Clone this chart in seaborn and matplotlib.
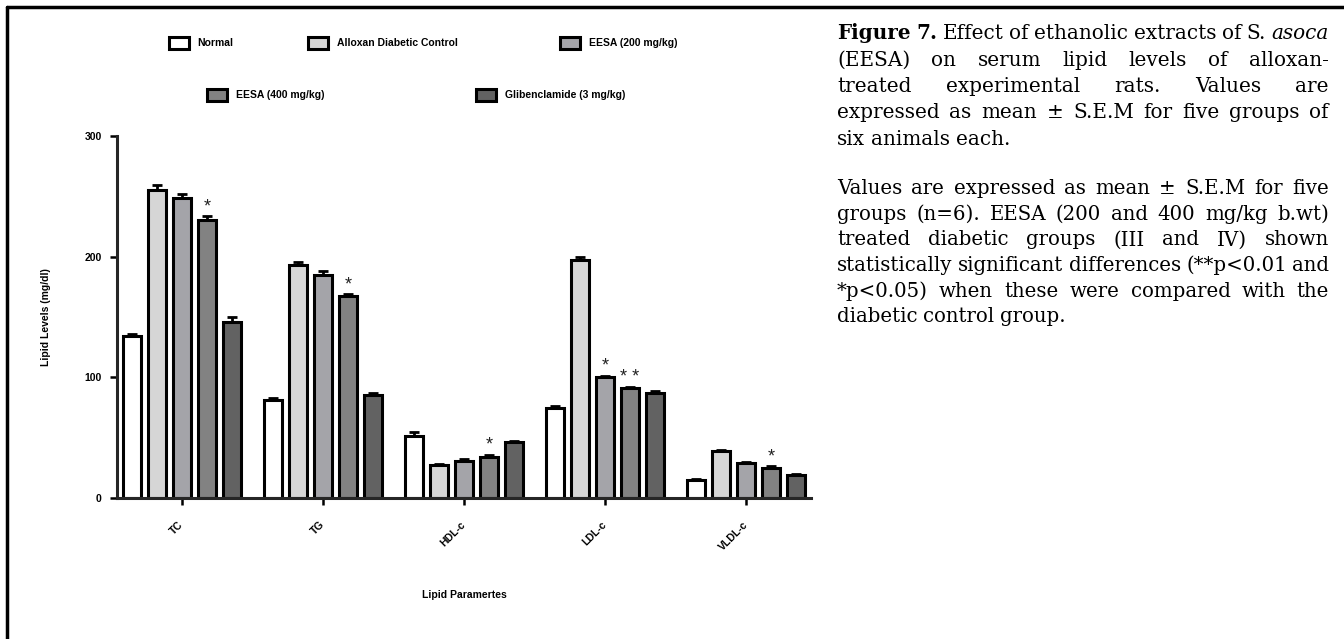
import pandas as pd
import seaborn as sns
import matplotlib.pyplot as plt
from matplotlib.lines import Line2D

# lipid parameters and treatment groups
params = ["TC", "TG", "HDL-c", "LDL-c", "VLDL-c"]
groups = ["Normal", "Alloxan Diabetic Control", "EESA (200 mg/kg)",
          "EESA (400 mg/kg)", "Glibenclamide (3 mg/kg)"]
colors = ["#FFFFFF", "#D6D6D6", "#A4A4A9", "#828282", "#626262"]

normal = [134, 81, 51, 75, 15]
alloxan = [255, 193, 27, 197, 39]
eesa200 = [249, 185, 31, 100, 29]
eesa400 = [230, 167, 34, 91, 25]
glib = [146, 85, 46, 87, 19]

sem_normal = [2, 2, 3.5, 1, 0.6]
sem_alloxan = [4, 2.5, 1.5, 3, 1]
sem_eesa200 = [3, 3, 1, 1.5, 1]
sem_eesa400 = [4, 2, 2, 1.2, 1.5]
sem_glib = [4, 2, 1, 2, 1]

stars_eesa200 = ["", "", "", "*", ""]
stars_eesa400 = ["*", "*", "*", "* *", "*"]
no_stars = ["", "", "", "", ""]

means = [normal, alloxan, eesa200, eesa400, glib]
sems = [sem_normal, sem_alloxan, sem_eesa200, sem_eesa400, sem_glib]
stars = [no_stars, no_stars, stars_eesa200, stars_eesa400, no_stars]

caption1 = [
    "Figure 7. Effect of ethanolic extracts of S. asoca",
    "(EESA) on serum lipid levels of alloxan-",
    "treated experimental rats. Values are",
    "expressed as mean ± S.E.M for five groups of",
    "six animals each.",
]
caption2 = [
    "Values are expressed as mean ± S.E.M for five",
    "groups (n=6). EESA (200 and 400 mg/kg b.wt)",
    "treated diabetic groups (III and IV) shown",
    "statistically significant differences (**p<0.01 and",
    "*p<0.05) when these were compared with the",
    "diabetic control group.",
]

rows = []
for g, vals in zip(groups, means):
    for p, v in zip(params, vals):
        rows.append({"param": p, "group": g, "value": v})
df = pd.DataFrame(rows)

sns.set_style("ticks")
plt.rcParams["font.family"] = ["Liberation Sans", "DejaVu Sans"]
for key in ["text.color", "axes.labelcolor", "xtick.color", "ytick.color"]:
    plt.rcParams[key] = "black"

W, H = 1344, 639
fig = plt.figure(figsize=(W / 100, H / 100), dpi=100)
ax = fig.add_axes([117 / W, 1 - 498 / H, 694 / W, 362 / H])

sns.barplot(data=df, x="param", y="value", hue="group", hue_order=groups,
            palette=colors, saturation=1, edgecolor="black", linewidth=2.2,
            width=0.885, gap=0.3, errorbar=None, ax=ax)

bar_conts = list(ax.containers)
handles = []
for i, cont in enumerate(bar_conts):
    handles.append(cont.patches[0])
    for j, bar in enumerate(cont.patches):
        xc = bar.get_x() + bar.get_width() / 2
        h = bar.get_height()
        ax.errorbar(xc, h, yerr=[[0], [sems[i][j]]], color="black",
                    elinewidth=2, capsize=3.5, capthick=2, zorder=3)
        if stars[i][j]:
            ax.text(xc, h + sems[i][j] + 0.5, stars[i][j], ha="center",
                    va="bottom", fontsize=13, color="#222222")
ax.get_legend().remove()

ax.set_xlim(-0.46, 4.46)
ax.set_ylim(0, 300)
ax.set_yticks([0, 100, 200, 300])
sns.despine(ax=ax)
for s in ["left", "bottom"]:
    ax.spines[s].set_linewidth(2.2)
ax.tick_params(axis="both", direction="out", length=5, width=1.8,
               labelsize=7.5, pad=6)
for lab in ax.get_yticklabels():
    lab.set_fontweight("bold")
ax.set_xticks(range(len(params)))
ax.set_xticklabels(params, rotation=45, ha="right", va="center",
                   rotation_mode="anchor", fontweight="bold")
ax.tick_params(axis="x", pad=13)

ax.set_ylabel("Lipid Levels (mg/dl)", fontsize=7.5, fontweight="bold")
ax.yaxis.set_label_coords(-0.095, 0.5)
ax.set_xlabel("Lipid Paramertes", fontsize=7.5, fontweight="bold")
ax.xaxis.set_label_coords(0.5, -(590 - 498) / 362)

# legend, one entry at a time so each box sits where it does in the figure
leg_pos = [(169, 43), (308, 43), (560, 43), (207, 95), (476, 95)]
for hnd, lab, (lx, ly) in zip(handles, groups, leg_pos):
    fig.legend(handles=[hnd], labels=[lab], loc="center left",
               bbox_to_anchor=(lx / W, 1 - ly / H), frameon=False,
               borderpad=0, borderaxespad=0, handlelength=1.9,
               handleheight=1.45, handletextpad=0.85,
               prop={"size": 7.5, "weight": "bold"})

# open frame round the figure panel
fig.add_artist(Line2D([7 / W, 7 / W], [0, 1 - 7 / H], transform=fig.transFigure,
                      color="black", lw=2.5))
fig.add_artist(Line2D([7 / W, 1], [1 - 7 / H, 1 - 7 / H],
                      transform=fig.transFigure, color="black", lw=2.5))

# justified caption on the right
renderer = fig.canvas.get_renderer()
x0, x1 = 837, 1329


def make_words(line, size):
    arts = []
    for k, w in enumerate(line.split(" ")):
        weight, style = "normal", "normal"
        if line.startswith("Figure 7.") and k < 2:
            weight = "bold"
        if w == "asoca":
            style = "italic"
        arts.append(fig.text(0, 0, w, fontsize=size, family="DejaVu Serif",
                             fontweight=weight, fontstyle=style, va="baseline"))
    return arts


def fit_size(lines, base=12):
    # largest size at which every justified line still fits with plain spaces
    worst = 0
    for line in lines[:-1]:
        arts = make_words(line, base)
        wsum = sum(a.get_window_extent(renderer).width for a in arts)
        worst = max(worst, wsum + (len(arts) - 1) * base * 100 / 72 * 0.3)
        for a in arts:
            a.remove()
    return base * (x1 - x0) / worst


def put_line(line, y, size, justify):
    arts = make_words(line, size)
    widths = [a.get_window_extent(renderer).width for a in arts]
    if justify and len(arts) > 1:
        gap = (x1 - x0 - sum(widths)) / (len(arts) - 1)
    else:
        gap = size * 100 / 72 * 0.3
    x = x0
    for a, wd in zip(arts, widths):
        a.set_position((x / W, 1 - y / H))
        x += wd + gap


size1 = fit_size(caption1)
size2 = fit_size(caption2)
for k, line in enumerate(caption1):
    put_line(line, 39 + k * 26.5, size1, k < len(caption1) - 1)
for k, line in enumerate(caption2):
    put_line(line, 194 + k * 25.7, size2, k < len(caption2) - 1)

fig.savefig("out.png", dpi=100)
